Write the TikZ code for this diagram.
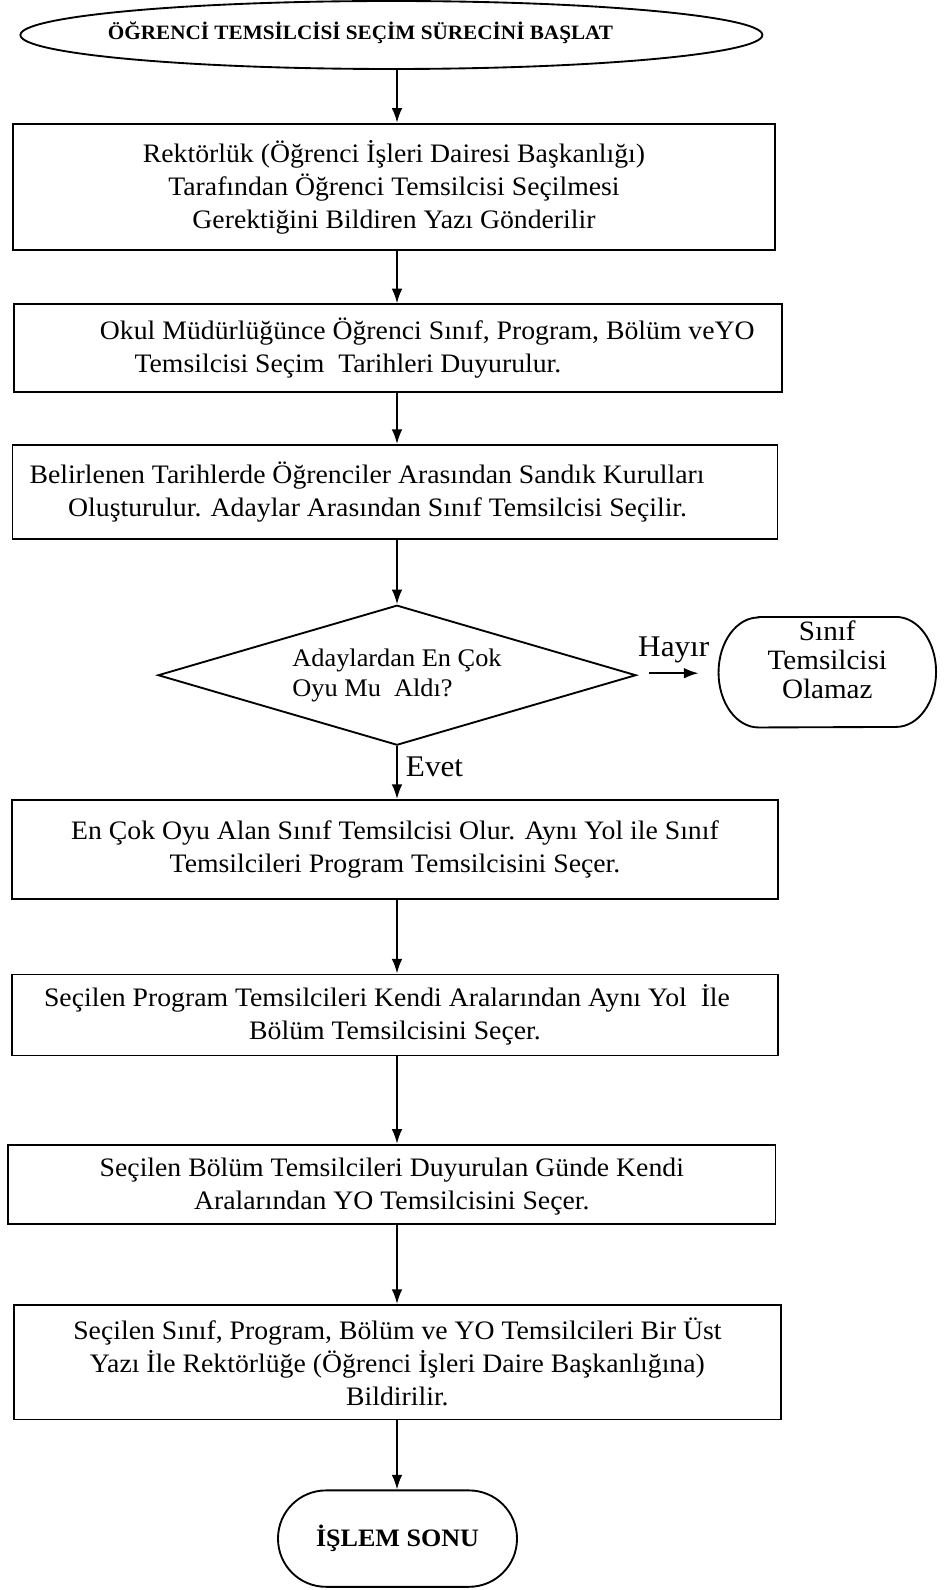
\documentclass[tikz,border=0pt]{standalone}
\usepackage{fontspec}
\setmainfont{Liberation Serif}[FakeStretch=1.04]
\usetikzlibrary{shapes.geometric,arrows.meta}
\begin{document}
\begin{tikzpicture}[x=0.75pt,y=-0.75pt,
  box/.style={draw,line width=1.4pt,rectangle,inner sep=0pt,align=center,
    font=\fontsize{20}{24.75}\selectfont},
  arr/.style={-{Latex[length=11pt,width=8pt]},line width=1.4pt},
  lbl/.style={inner sep=0pt,font=\fontsize{22.5}{24}\selectfont}]
\useasboundingbox (0,0) rectangle (951,1590);

\node[draw,ellipse,line width=1.4pt,inner sep=0pt,minimum width=556.5pt,minimum height=51pt] (start) at (391.4,35) {};
\node[inner sep=0pt,font=\bfseries\fontsize{15.3}{18}\selectfont] (starttxt) at (360.5,32.5)
  {ÖĞRENCİ TEMSİLCİSİ SEÇİM SÜRECİNİ BAŞLAT};

\node[box,minimum width=572pt,minimum height=95pt] (b1) at (394,187)
  {Rektörlük (Öğrenci İşleri Dairesi Başkanlığı)\\Tarafından Öğrenci Temsilcisi Seçilmesi\\Gerektiğini Bildiren Yazı Gönderilir};

\node[box,align=left,minimum width=575.6pt,minimum height=66pt] (b2) at (398,348.3)
  {\hspace*{44pt}Okul Müdürlüğünce Öğrenci Sınıf, Program, Bölüm veYO\\\hspace*{70pt}Temsilcisi Seçim\ \ Tarihleri Duyurulur.};

\node[box,align=left,minimum width=573.8pt,minimum height=70.8pt] (b3) at (395,492.2)
  {Belirlenen Tarihlerde Öğrenciler Arasından Sandık Kurulları\hspace*{42pt}\\\hspace*{29pt}Oluşturulur. Adaylar Arasından Sınıf Temsilcisi Seçilir.};

\node[draw,diamond,line width=1.4pt,inner sep=0pt,aspect=3.4,minimum width=358.5pt,minimum height=105pt,
  align=left,font=\fontsize{19}{22.5}\selectfont] (dia) at (397,675.2)
  {Adaylardan En Çok\\Oyu Mu\ \ Aldı?};

\node[inner sep=0pt,minimum width=162.75pt,minimum height=82.5pt] (side) at (827.3,672.2) {};
\draw[line width=1.4pt] ([xshift=30pt]side.north west) -- ([xshift=-30pt]side.north east)
  arc[start angle=90,end angle=-90,x radius=30pt,y radius=41.25pt]
  -- ([xshift=30pt]side.south west)
  arc[start angle=270,end angle=90,x radius=30pt,y radius=41.25pt] -- cycle;
\node[align=center,inner sep=0pt,font=\fontsize{21}{21.75}\selectfont] (sidetxt) at (827.3,660)
  {Sınıf\\Temsilcisi\\Olamaz};

\node[box,minimum width=574pt,minimum height=74.5pt] (b4) at (395,849.6)
  {En Çok Oyu Alan Sınıf Temsilcisi Olur. Aynı Yol ile Sınıf\\Temsilcileri Program Temsilcisini Seçer.};

\node[box,minimum width=574pt,minimum height=60.8pt] (b5) at (395,1015)
  {Seçilen Program Temsilcileri Kendi Aralarından Aynı Yol\ \ İle\hspace*{12pt}\\Bölüm Temsilcisini Seçer.};

\node[box,minimum width=575.6pt,minimum height=59.3pt,text depth=0pt] (b6) at (391.8,1184.2)
  {Seçilen\ Bölüm\ Temsilcileri\ Duyurulan\ Günde\ Kendi\\Aralarından YO Temsilcisini Seçer.};

\node[box,minimum width=574.9pt,minimum height=85.9pt] (b7) at (397.4,1362.2)
  {Seçilen Sınıf, Program, Bölüm ve YO Temsilcileri Bir Üst\\Yazı İle Rektörlüğe (Öğrenci İşleri Daire Başkanlığına)\\Bildirilir.};

\node[draw,rectangle,rounded corners=36pt,line width=1.4pt,inner sep=0pt,minimum width=179.25pt,minimum height=72.3pt,
  font=\bfseries\fontsize{18.8}{20}\selectfont] (end) at (397.5,1538.6) {İŞLEM SONU};

\coordinate (ax) at (397,0);
\draw[arr] (start.south -| ax) -- (b1.north -| ax);
\draw[arr] (b1.south -| ax) -- (b2.north -| ax);
\draw[arr] (b2.south -| ax) -- (b3.north -| ax);
\draw[arr] (b3.south -| ax) -- (dia.north -| ax);
\draw[arr] (dia.south -| ax) -- node[lbl,right=6pt,pos=0.4] (evet) {Evet} (b4.north -| ax);
\draw[arr] (b4.south -| ax) -- (b5.north -| ax);
\draw[arr] (b5.south -| ax) -- (b6.north -| ax);
\draw[arr] (b6.south -| ax) -- (b7.north -| ax);
\draw[arr] (b7.south -| ax) -- (end.north -| ax);
\draw[arr] ([xshift=9pt,yshift=1.5pt]dia.east) -- node[lbl,above=7pt] (hayir) {Hayır} ([xshift=-15pt,yshift=1.5pt]dia.east -| side.west);
\end{tikzpicture}
\end{document}
